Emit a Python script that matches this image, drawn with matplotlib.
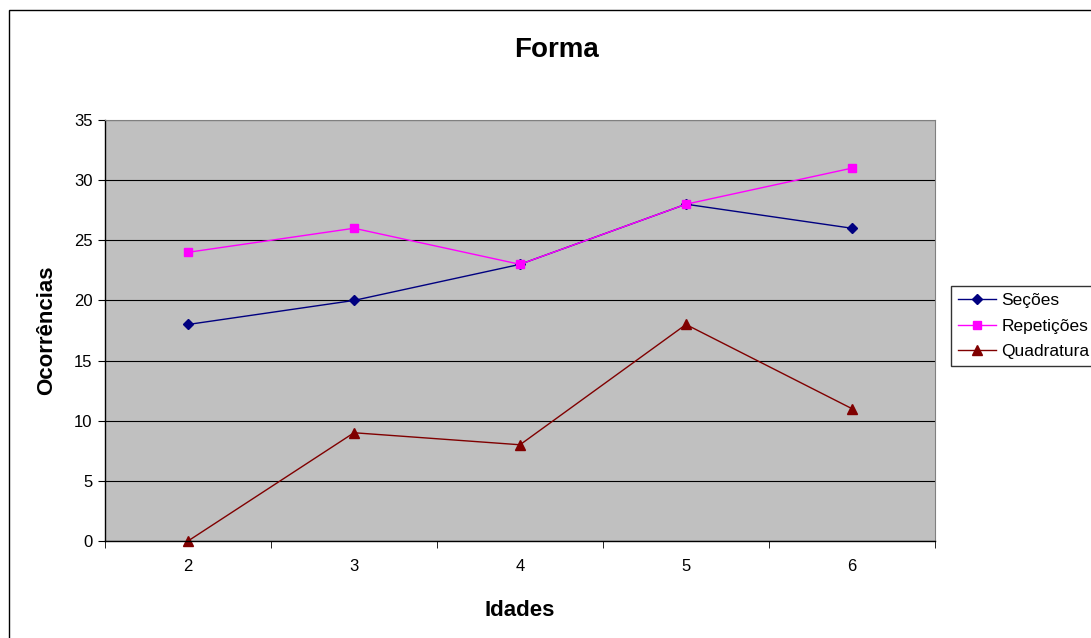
import matplotlib
matplotlib.use("Agg")
import matplotlib.pyplot as plt
from matplotlib.patches import Rectangle
import numpy as np

plt.rcParams['font.family'] = ['Liberation Sans', 'DejaVu Sans']

idades = ["2", "3", "4", "5", "6"]
secoes = [18, 20, 23, 28, 26]
repeticoes = [24, 26, 23, 28, 31]
quadratura = [0, 9, 8, 18, 11]

W, H = 1091, 638
fig = plt.figure(figsize=(W / 100, H / 100), dpi=100)
fig.patch.set_facecolor("white")

# outer chart border (cut by the image edge on the right and bottom)
fig.patches.append(Rectangle((9 / W, -0.05), 1.2, 1 - 10 / H + 0.05,
                             transform=fig.transFigure, fill=False,
                             edgecolor="black", linewidth=1.0))

ax = fig.add_axes([105 / W, 1 - 541 / H, 830 / W, 421 / H])
ax.set_facecolor("#C0C0C0")

xs = np.arange(1, len(idades) + 1)
ax.plot(xs, secoes, color="#000080", marker="D", markersize=5, linewidth=1.0, label="Seções")
ax.plot(xs, repeticoes, color="#FF00FF", marker="s", markersize=6, linewidth=1.0, label="Repetições")
ax.plot(xs, quadratura, color="#800000", marker="^", markersize=7, linewidth=1.0, label="Quadratura",
        clip_on=False)

ax.set_xlim(0.5, 5.5)
ax.set_ylim(0, 35)
ax.set_yticks(range(0, 36, 5))
ax.set_xticks(xs)
ax.set_xticklabels(idades)
ax.set_xticks(np.arange(0.5, 5.6, 1), minor=True)
ax.tick_params(axis="x", which="major", length=0, pad=13, labelsize=12)
ax.tick_params(axis="x", which="minor", length=5, direction="out")
ax.tick_params(axis="y", length=5, direction="out", labelsize=12, pad=4)
ax.grid(axis="y", color="black", linewidth=0.8)
ax.set_axisbelow(True)

for s in ["top", "right"]:
    ax.spines[s].set_color("#808080")
    ax.spines[s].set_linewidth(0.8)
for s in ["left", "bottom"]:
    ax.spines[s].set_color("black")
    ax.spines[s].set_linewidth(1.0)

fig.text(557 / W, 1 - 50 / H, "Forma", fontsize=20, fontweight="bold",
         ha="center", va="center")
ax.set_xlabel("Idades", fontsize=16, fontweight="bold", labelpad=19)
ax.set_ylabel("Ocorrências", fontsize=16, fontweight="bold", labelpad=12)

leg = ax.legend(loc="upper left", bbox_to_anchor=(951 / W, 1 - 286 / H),
                bbox_transform=fig.transFigure, frameon=True, fancybox=False,
                edgecolor="black", fontsize=12.5, handlelength=2.2,
                borderaxespad=0, borderpad=0.4, labelspacing=0.6, handletextpad=0.3)
leg.get_frame().set_linewidth(1.0)

fig.savefig("out.png", dpi=100)
